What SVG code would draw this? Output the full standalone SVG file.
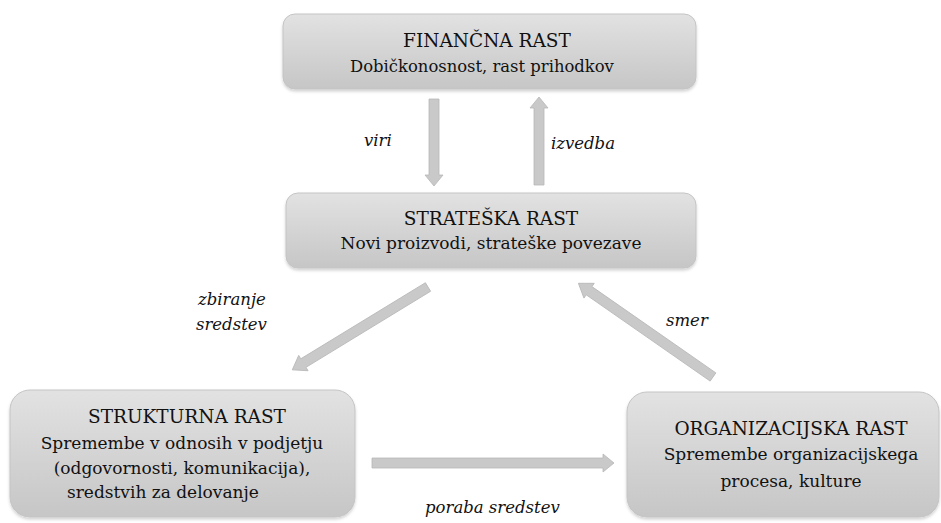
<svg xmlns="http://www.w3.org/2000/svg" width="941" height="523" viewBox="0 0 941 523">
<defs>
<linearGradient id="boxg" x1="0" y1="0" x2="0" y2="1">
<stop offset="0" stop-color="#e2e2e2"/>
<stop offset="1" stop-color="#c6c6c6"/>
</linearGradient>
<filter id="sh" x="-5%" y="-10%" width="110%" height="130%">
<feDropShadow dx="0" dy="2" stdDeviation="1.5" flood-color="#000" flood-opacity="0.18"/>
</filter>
</defs>
<style>
.box{fill:url(#boxg);stroke:#c4c4c4;stroke-width:1;filter:url(#sh)}
text{font-family:'DejaVu Serif',serif;font-size:17px;fill:#111111}
.t{text-anchor:middle}
.h{font-size:18.5px}
.lbl{font-style:italic;font-size:16.5px}
.arr{fill:#c9c9c9;stroke:#b8b8b8;stroke-width:0.8}
</style>
<rect width="941" height="523" fill="#ffffff"/>
<g id="connectors">
<path class="arr" d="M429,99 L439,99 L439,175 L443,175 L434,186 L425,175 L429,175 Z"/>
<path class="arr" d="M534,185 L544,185 L544,108 L548,108 L539,97 L530,108 L534,108 Z"/>
<path class="arr" transform="translate(428,287) rotate(148.6)" d="M0,-5 L146,-5 L146,-9 L159,0 L146,9 L146,5 L0,5 Z"/>
<path class="arr" transform="translate(713,377) rotate(-145.15)" d="M0,-5 L151,-5 L151,-9 L164,0 L151,9 L151,5 L0,5 Z"/>
<path class="arr" d="M372,458 L603,458 L603,454 L614,463 L603,472 L603,468 L372,468 Z"/>
<text class="lbl" x="364" y="146">viri</text>
<text class="lbl" x="551" y="149">izvedba</text>
<text class="lbl" x="198" y="305">zbiranje</text>
<text class="lbl" x="196" y="330">sredstev</text>
<text class="lbl" x="666" y="326">smer</text>
<text class="lbl" x="425" y="513">poraba sredstev</text>
</g>
<g id="financna">
<rect class="box" x="283" y="14" width="413" height="75" rx="12"/>
<text class="t h" x="487" y="47">FINANČNA RAST</text>
<text class="t" x="482" y="72" style="font-size:16.4px">Dobičkonosnost, rast prihodkov</text>
</g>
<g id="strateska">
<rect class="box" x="286" y="193" width="410" height="75" rx="12"/>
<text class="t h" x="491" y="225">STRATEŠKA RAST</text>
<text class="t" x="491" y="249">Novi proizvodi, strateške povezave</text>
</g>
<g id="strukturna">
<rect class="box" x="10" y="390" width="345" height="127" rx="20"/>
<text class="t h" x="187" y="423">STRUKTURNA RAST</text>
<text class="t" x="182" y="449">Spremembe v odnosih v podjetju</text>
<text class="t" x="182" y="474">(odgovornosti, komunikacija),</text>
<text x="67" y="498">sredstvih za delovanje</text>
</g>
<g id="organizacijska">
<rect class="box" x="627" y="392" width="312" height="125" rx="20"/>
<text class="t h" x="791" y="435">ORGANIZACIJSKA RAST</text>
<text class="t" x="791" y="460">Spremembe organizacijskega</text>
<text class="t" x="791" y="487">procesa, kulture</text>
</g>
</svg>
